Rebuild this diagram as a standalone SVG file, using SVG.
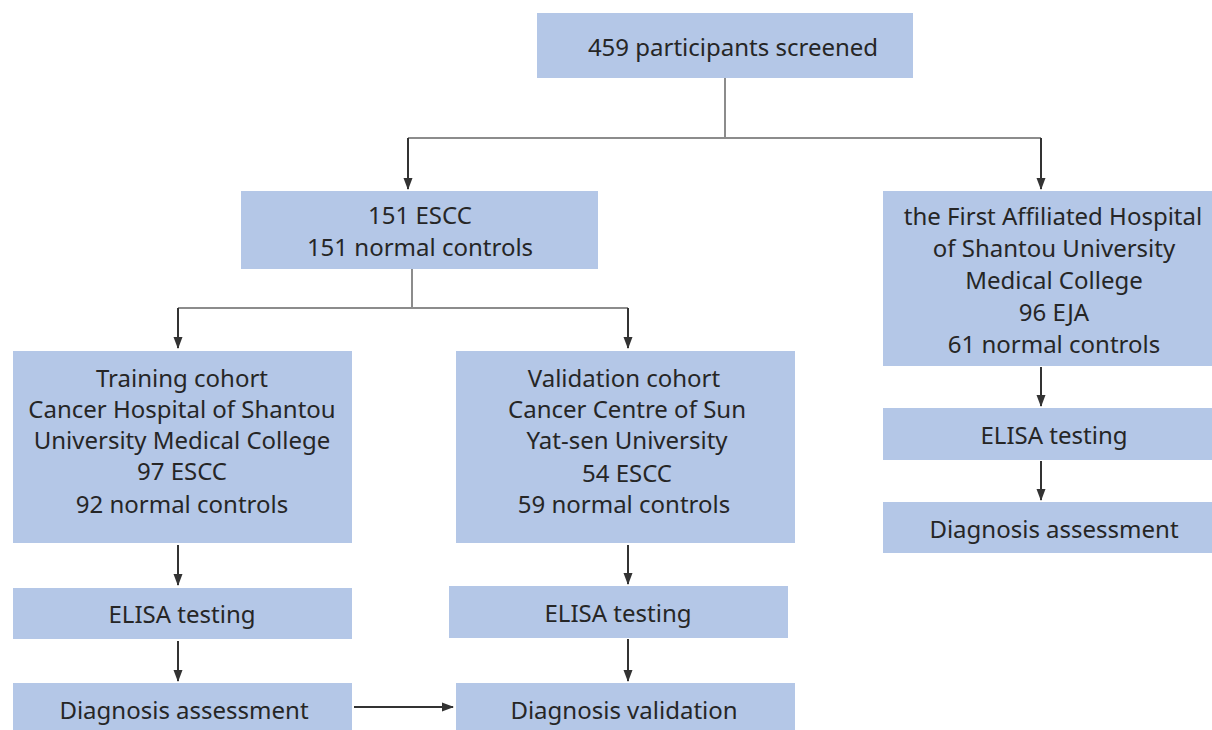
<svg xmlns="http://www.w3.org/2000/svg" width="1212" height="730" viewBox="0 0 1212 730">
<style>
.box{fill:#b4c7e7}
text{font-family:"Noto Sans","DejaVu Sans",sans-serif;font-size:24px;fill:#262626;text-anchor:middle}
.ln{stroke:#8c8c8c;stroke-width:2;fill:none}
.ar{stroke:#333;stroke-width:2;fill:none;marker-end:url(#ah)}
</style>
<defs>
<marker id="ah" markerWidth="12" markerHeight="10" refX="11" refY="5" orient="auto" markerUnits="userSpaceOnUse">
<path d="M0,0.5 L12,5 L0,9.5 Z" fill="#333"/>
</marker>
</defs>
<rect width="1212" height="730" fill="#fff"/>
<g id="connectors">
<path class="ln" d="M725,78 V138 M408,138 H1041"/>
<path class="ar" d="M408,138 V189"/>
<path class="ar" d="M1041,138 V189"/>
<path class="ln" d="M412,269 V308 M178,308 H628"/>
<path class="ar" d="M178,308 V348"/>
<path class="ar" d="M628,308 V348"/>
<path class="ar" d="M178,545 V585"/>
<path class="ar" d="M178,641 V681"/>
<path class="ar" d="M628,545 V584"/>
<path class="ar" d="M628,639 V681"/>
<path class="ar" d="M1041,367 V406"/>
<path class="ar" d="M1041,461 V500"/>
<path class="ar" d="M354,707 H453"/>
</g>
<g id="n-screened"><rect class="box" x="537" y="13" width="376" height="65"/><text x="733" y="56">459 participants screened</text></g>
<g id="n-escc"><rect class="box" x="241" y="191" width="357" height="78"/><text x="420" y="224">151 ESCC</text><text x="420" y="256">151 normal controls</text></g>
<g id="n-training"><rect class="box" x="13" y="351" width="339" height="192"/>
<text x="182" y="387">Training cohort</text><text x="182" y="418">Cancer Hospital of Shantou</text><text x="182" y="449">University Medical College</text><text x="182" y="480">97 ESCC</text><text x="182" y="513">92 normal controls</text></g>
<g id="n-validation"><rect class="box" x="456" y="351" width="339" height="192"/>
<text x="624" y="387">Validation cohort</text><text x="627" y="418">Cancer Centre of Sun</text><text x="627" y="449">Yat-sen University</text><text x="627" y="482">54 ESCC</text><text x="624" y="513">59 normal controls</text></g>
<g id="n-first"><rect class="box" x="883" y="191" width="329" height="175"/>
<text x="1053" y="225">the First Affiliated Hospital</text><text x="1054" y="257">of Shantou University</text><text x="1054" y="289">Medical College</text><text x="1054" y="321">96 EJA</text><text x="1054" y="353">61 normal controls</text></g>
<g id="n-elisa-l"><rect class="box" x="13" y="588" width="339" height="51"/><text x="182" y="623">ELISA testing</text></g>
<g id="n-elisa-m"><rect class="box" x="449" y="586" width="339" height="52"/><text x="618" y="622">ELISA testing</text></g>
<g id="n-elisa-r"><rect class="box" x="883" y="408" width="329" height="52"/><text x="1054" y="444">ELISA testing</text></g>
<g id="n-diag-l"><rect class="box" x="13" y="683" width="339" height="47"/><text x="184" y="719">Diagnosis assessment</text></g>
<g id="n-diag-m"><rect class="box" x="456" y="683" width="339" height="47"/><text x="624" y="719">Diagnosis validation</text></g>
<g id="n-diag-r"><rect class="box" x="883" y="502" width="329" height="51"/><text x="1054" y="538">Diagnosis assessment</text></g>
</svg>
